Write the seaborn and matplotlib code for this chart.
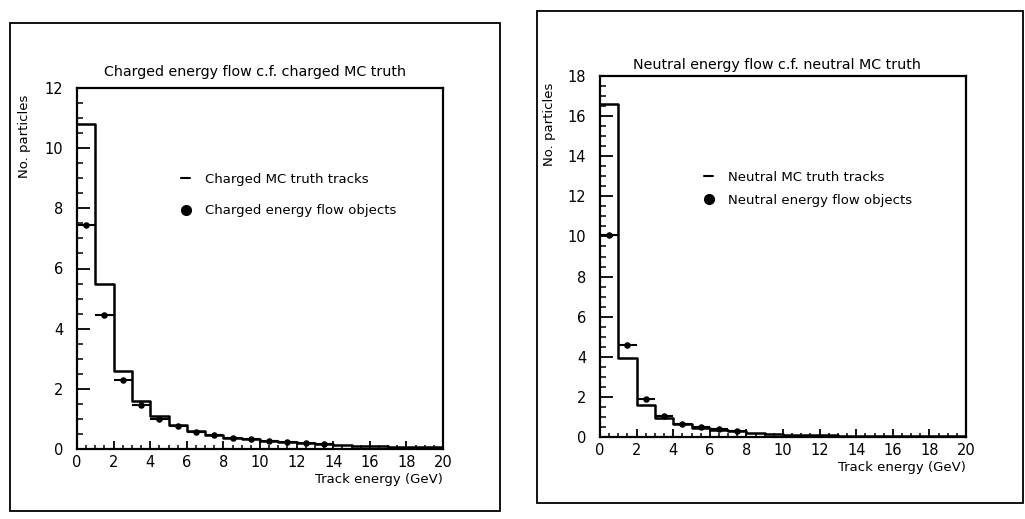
import numpy as np
import pandas as pd
import matplotlib
matplotlib.use("Agg")
import matplotlib.pyplot as plt
from matplotlib.lines import Line2D
from matplotlib.patches import Rectangle
from matplotlib.ticker import MultipleLocator
import seaborn as sns

# ---------------- data ----------------
bin_edges = list(range(0, 21))
bin_centers = [e + 0.5 for e in range(0, 20)]

charged_truth = [10.8, 5.5, 2.6, 1.6, 1.1, 0.8, 0.6, 0.45, 0.38, 0.32,
                 0.28, 0.22, 0.2, 0.17, 0.13, 0.11, 0.09, 0.08, 0.07, 0.06]
charged_eflow = [7.45, 4.45, 2.3, 1.45, 1.0, 0.75, 0.58, 0.45, 0.38, 0.32,
                 0.28, 0.22, 0.2, 0.18]

neutral_truth = [16.6, 3.95, 1.6, 0.95, 0.65, 0.45, 0.35, 0.28, 0.2, 0.15,
                 0.12, 0.1, 0.08, 0.07, 0.06, 0.05, 0.05, 0.04, 0.04, 0.03]
neutral_eflow = [10.05, 4.6, 1.9, 1.05, 0.65, 0.5, 0.38, 0.3]

panels = [
    dict(title="Charged energy flow c.f. charged MC truth",
         truth=charged_truth, eflow=charged_eflow, ymax=12,
         truth_label="Charged MC truth tracks",
         eflow_label="Charged energy flow objects"),
    dict(title="Neutral energy flow c.f. neutral MC truth",
         truth=neutral_truth, eflow=neutral_eflow, ymax=18,
         truth_label="Neutral MC truth tracks",
         eflow_label="Neutral energy flow objects"),
]
x_label = "Track energy (GeV)"
y_label = "No. particles"

# ---------------- style ----------------
sns.set_theme(style="ticks")
plt.rcParams["font.family"] = ["DejaVu Sans"]
plt.rcParams["text.color"] = "black"
plt.rcParams["axes.labelcolor"] = "black"
plt.rcParams["xtick.color"] = "black"
plt.rcParams["ytick.color"] = "black"

W, H = 1025, 519
fig = plt.figure(figsize=(W / 100, H / 100), dpi=100)

def fx(px):
    return px / W

def fy(py):
    return 1 - py / H

# layout (pixel based)
ax_pos = [(77, 88, 443, 449), (600, 76, 966, 437)]
frames = [(10, 23, 500, 511), (537, 11, 1023, 503)]
titles_xy = [(255, 72), (777, 65)]
ylab_xy = [(25, 136), (549, 124)]
leg_anchor = [(0.284, 0.765, 1.4), (0.284, 0.737, 0.75)]

for i, p in enumerate(panels):
    # frame box around each panel
    x0, y0, x1, y1 = frames[i]
    fig.patches.append(Rectangle((fx(x0), fy(y1)), fx(x1) - fx(x0), fy(y0) - fy(y1),
                                 transform=fig.transFigure, fill=False,
                                 edgecolor="black", linewidth=1.3))
    l, t, r, b = ax_pos[i]
    ax = fig.add_axes([fx(l), fy(b), fx(r) - fx(l), fy(t) - fy(b)])

    df_t = pd.DataFrame({"x": bin_centers, "w": p["truth"]})
    sns.histplot(data=df_t, x="x", weights="w", bins=bin_edges,
                 element="step", fill=False, color="black", linewidth=1.8, ax=ax)

    n = len(p["eflow"])
    df_e = pd.DataFrame({"x": bin_centers[:n], "y": p["eflow"]})
    ax.errorbar(df_e["x"], df_e["y"], xerr=0.5, fmt="none", ecolor="black",
                elinewidth=1.5, capsize=0)
    sns.scatterplot(data=df_e, x="x", y="y", color="black", s=22,
                    edgecolor="black", linewidth=0, ax=ax, zorder=5)

    ax.set_xlim(0, 20)
    ax.set_ylim(0, p["ymax"])
    ax.xaxis.set_major_locator(MultipleLocator(2))
    ax.xaxis.set_minor_locator(MultipleLocator(0.5))
    ax.yaxis.set_major_locator(MultipleLocator(2))
    ax.yaxis.set_minor_locator(MultipleLocator(0.5))
    ax.tick_params(axis="x", which="major", direction="in", length=6, width=1.3,
                   pad=4, labelsize=10.5, top=False, colors="black")
    ax.tick_params(axis="x", which="minor", direction="in", length=3, width=1.1, top=False)
    ax.tick_params(axis="y", which="major", direction="in", length=9, width=1.3,
                   pad=10, labelsize=10.5, right=False, colors="black")
    ax.tick_params(axis="y", which="minor", direction="in", length=4.5, width=1.1, right=False)
    for s in ax.spines.values():
        s.set_visible(True)
        s.set_linewidth(1.6)
        s.set_color("black")
    ax.set_ylabel("")
    ax.set_xlabel(x_label, loc="right", fontsize=9.5, labelpad=2.5, color="black")

    tx, ty = titles_xy[i]
    fig.text(fx(tx), fy(ty), p["title"], ha="center", va="center", fontsize=10.3,
             color="black")
    lx, ly = ylab_xy[i]
    fig.text(fx(lx), fy(ly), y_label, ha="center", va="center", rotation=90,
             fontsize=9.5, color="black")

    handles = [Line2D([], [], color="black", linewidth=1.5),
               Line2D([], [], color="black", marker="o", linestyle="none", markersize=7)]
    axx, axy, sp = leg_anchor[i]
    leg = ax.legend(handles, [p["truth_label"], p["eflow_label"]], loc="upper left",
                    bbox_to_anchor=(axx, axy), frameon=False, fontsize=9.5,
                    handlelength=0.7, handletextpad=1.1, labelspacing=sp,
                    borderpad=0, borderaxespad=0)
    for t_ in leg.get_texts():
        t_.set_color("black")

fig.savefig("out.png", dpi=100, facecolor="white")
